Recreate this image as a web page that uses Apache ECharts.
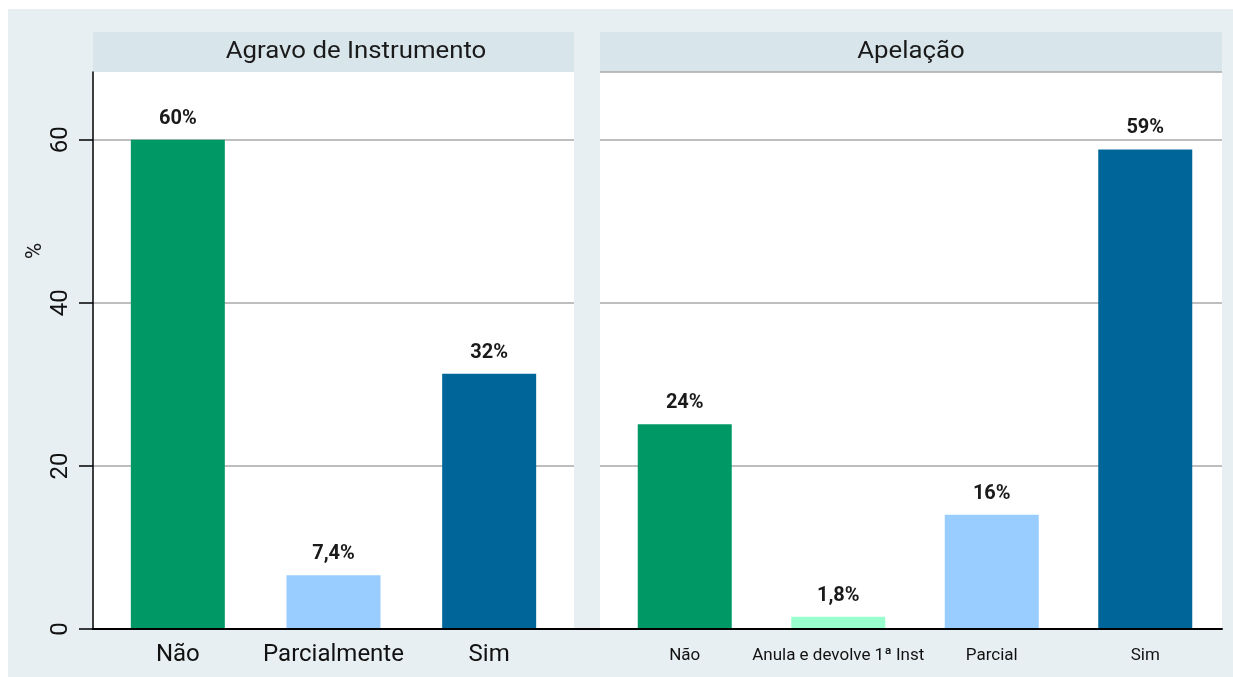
<!DOCTYPE html>
<html>
<head>
<meta charset="utf-8">
<script src="https://cdn.jsdelivr.net/npm/echarts@6/dist/echarts.min.js"></script>
<style>
html,body{margin:0;padding:0;background:#fff;}
#c{width:1233px;height:677px;}
</style>
</head>
<body>
<div id="c"></div>
<script>
// ---- data ----
const panelTitles = ['Agravo de Instrumento', 'Apelação'];
const catsA = ['Não', 'Parcialmente', 'Sim'];
const valsA = [60.0, 6.6, 31.3];
const labelsA = ['60%', '7,4%', '32%'];
const catsB = ['Não', 'Anula e devolve 1ª Inst', 'Parcial', 'Sim'];
const valsB = [25.1, 1.5, 14.0, 58.8];
const labelsB = ['24%', '1,8%', '16%', '59%'];
const yTicks = [0, 20, 40, 60];
const yAxisName = '%';

const colorsA = ['#009966', '#99ccff', '#006699'];
const colorsB = ['#009966', '#99ffcc', '#99ccff', '#006699'];
const FONT = "Roboto, 'Noto Sans', sans-serif";
const yMax = 68.3;

const chart = echarts.init(document.getElementById('c'), null, {renderer: 'canvas'});

const TOP = 72, H = 557;
function hiddenY(idx, extra) {
  return Object.assign({
    type: 'value', gridIndex: idx, min: 0, max: yMax, interval: 20,
    axisLine: {show: false}, axisTick: {show: false}, axisLabel: {show: false},
    splitLine: {show: false}
  }, extra || {});
}

const option = {
  animation: false,
  backgroundColor: '#ffffff',
  graphic: [
    {type: 'rect', shape: {x: 8, y: 9, width: 1225, height: 668}, style: {fill: '#e8eff2'}, z: -10},
    {type: 'rect', shape: {x: 93, y: 32, width: 481, height: 40}, style: {fill: '#d8e5eb'}, z: -5},
    {type: 'rect', shape: {x: 600, y: 32, width: 622, height: 41}, style: {fill: '#d8e5eb'}, z: -5},
    {type: 'text', x: 356, y: 52, scaleX: 1.12, style: {text: panelTitles[0], font: "23px " + FONT, fill: '#1a1a1a', textAlign: 'center', textVerticalAlign: 'middle'}},
    {type: 'text', x: 911, y: 52, scaleX: 1.12, style: {text: panelTitles[1], font: "23px " + FONT, fill: '#1a1a1a', textAlign: 'center', textVerticalAlign: 'middle'}},
    {type: 'text', x: 35, y: 251, rotation: Math.PI / 2, style: {text: yAxisName, font: "22px " + FONT, fill: '#1a1a1a', textAlign: 'center', textVerticalAlign: 'middle'}}
  ],
  grid: [
    {left: 93, top: TOP, width: 481, height: H, show: true, backgroundColor: '#ffffff', borderWidth: 0},
    {left: 600, top: TOP, width: 622, height: H, show: true, backgroundColor: '#ffffff', borderWidth: 0},
    {left: 100, top: TOP, width: 467, height: H},
    {left: 608, top: TOP, width: 614, height: H},
    {left: 93, top: TOP, width: 1129, height: H}
  ],
  xAxis: [
    {type: 'category', gridIndex: 0, data: catsA, show: false},
    {type: 'category', gridIndex: 1, data: catsB, show: false},
    {type: 'category', gridIndex: 2, data: catsA, axisLine: {show: false}, axisTick: {show: false},
      axisLabel: {fontFamily: FONT, fontSize: 24, color: '#111', margin: 14, interval: 0, hideOverlap: false}},
    {type: 'category', gridIndex: 3, data: catsB, axisLine: {show: false}, axisTick: {show: false},
      axisLabel: {fontFamily: FONT, fontSize: 17, color: '#111', margin: 18, interval: 0, hideOverlap: false}},
    {type: 'category', gridIndex: 4, data: [''], axisTick: {show: false}, axisLabel: {show: false},
      axisLine: {show: true, lineStyle: {color: '#000', width: 2}}, z: 10}
  ],
  yAxis: [
    {type: 'value', gridIndex: 0, min: 0, max: yMax, interval: 20,
      axisLine: {show: true, lineStyle: {color: '#000', width: 1.5}},
      axisTick: {show: true, length: 14, lineStyle: {color: '#000', width: 1.5},
        customValues: yTicks},
      axisLabel: {show: true, rotate: 90, fontFamily: FONT, fontSize: 24, color: '#111', margin: 20,
        align: 'center', verticalAlign: 'bottom', customValues: yTicks},
      splitLine: {show: true, lineStyle: {color: '#a8a8a8', width: 1.5}}},
    hiddenY(1, {splitLine: {show: true, lineStyle: {color: '#a8a8a8', width: 1.5}}}),
    hiddenY(2),
    hiddenY(3),
    hiddenY(4)
  ],
  series: [
    {type: 'bar', xAxisIndex: 2, yAxisIndex: 2, barWidth: 94,
      data: valsA.map((v, i) => ({value: v, itemStyle: {color: colorsA[i]}})),
      label: {show: true, position: 'top', distance: 11, fontFamily: FONT, fontSize: 20, fontWeight: 'bold', color: '#1a1a1a',
        formatter: p => labelsA[p.dataIndex]}},
    {type: 'bar', xAxisIndex: 3, yAxisIndex: 3, barWidth: 94,
      data: valsB.map((v, i) => ({value: v, itemStyle: {color: colorsB[i]}})),
      label: {show: true, position: 'top', distance: 11, fontFamily: FONT, fontSize: 20, fontWeight: 'bold', color: '#1a1a1a',
        formatter: p => labelsB[p.dataIndex]}}
  ]
};
chart.setOption(option);
</script>
</body>
</html>
